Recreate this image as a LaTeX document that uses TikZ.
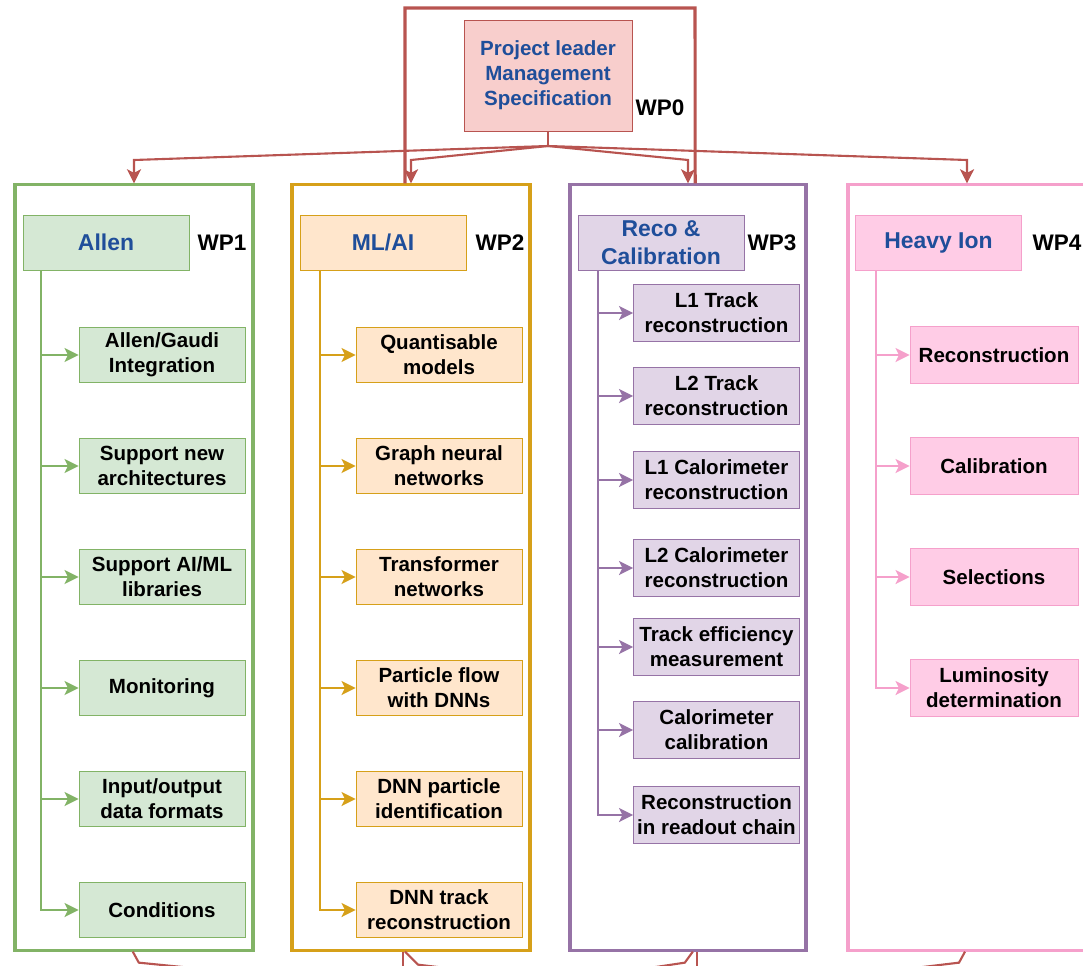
\documentclass[tikz,border=0pt]{standalone}
\usepackage{fontspec}
\setmainfont{Liberation Sans}
\usetikzlibrary{arrows.meta}
\definecolor{wpred}{HTML}{B85450}
\definecolor{wpredfill}{HTML}{F8CECC}
\definecolor{titleblue}{HTML}{1F4E9A}
\definecolor{wpgreen}{HTML}{82B366}
\definecolor{wpgreenfill}{HTML}{D5E8D4}
\definecolor{wpgold}{HTML}{D6A019}
\definecolor{wpgoldfill}{HTML}{FFE6CC}
\definecolor{wppurple}{HTML}{9673A6}
\definecolor{wppurplefill}{HTML}{E1D5E7}
\definecolor{wppink}{HTML}{F5A0CB}
\definecolor{wppinkfill}{HTML}{FFCCE6}
\begin{document}
\begin{tikzpicture}[x=0.025cm,y=-0.025cm,>={Stealth[length=10pt,width=10pt,inset=2.5pt]},
    panel/.style={draw,line width=2.2pt,minimum width=5.95cm,minimum height=19.125cm},
    headbox/.style={draw,line width=0.6pt,minimum width=4.15cm,minimum height=1.375cm,align=center,inner sep=1pt,
        text=titleblue,font=\fontsize{16.3}{19.8}\selectfont\bfseries},
    taskbox/.style={draw,line width=0.6pt,minimum width=4.15cm,minimum height=1.375cm,align=center,inner sep=1pt,
        font=\fontsize{14.6}{17.8}\selectfont\bfseries},
    wplabel/.style={font=\fontsize{16}{19}\selectfont\bfseries},
    redline/.style={draw=wpred,line width=1.5pt},
    trunk/.style={line width=1.7pt,->}]
    \clip (0,0) rectangle (1083,965);
    % top
    \node[draw=wpred,fill=wpredfill,line width=0.6pt,minimum width=4.2cm,minimum height=2.775cm,align=center,
        text=titleblue,font=\fontsize{14.6}{17.8}\selectfont\bfseries] (wp0) at (548,75.5) {Project leader\\Management\\Specification};
    \node[wplabel] (wp0lab) at (660,108) {WP0};
    % work package frames
    \node[panel,draw=wpgreen] (p1) at (134,567.5) {};
    \node[panel,draw=wpgold] (p2) at (411,567.5) {};
    \node[panel,draw=wppurple,minimum width=5.9cm] (p3) at (688,567.5) {};
    \node[panel,draw=wppink] (p4) at (967,567.5) {};
    \node[headbox,draw=wpgreen,fill=wpgreenfill] (h1) at (106,242.5) {Allen};
    \node[headbox,draw=wpgold,fill=wpgoldfill] (h2) at (383,242.5) {ML/AI};
    \node[headbox,draw=wppurple,fill=wppurplefill] (h3) at (661,242.5) {Reco \&\\Calibration};
    \node[headbox,draw=wppink,fill=wppinkfill] (h4) at (938.5,242.5) {Heavy Ion};
    \node[wplabel] (wp1lab) at (222,243) {WP1};
    \node[wplabel] (wp2lab) at (500,243) {WP2};
    \node[wplabel] (wp3lab) at (772,243) {WP3};
    \node[wplabel] (wp4lab) at (1057,243) {WP4};
    % WP1
    \node[taskbox,draw=wpgreen,fill=wpgreenfill] (a1) at (162,355) {Allen/Gaudi\\Integration};
    \node[taskbox,draw=wpgreen,fill=wpgreenfill] (a2) at (162,466) {Support new\\architectures};
    \node[taskbox,draw=wpgreen,fill=wpgreenfill] (a3) at (162,577) {Support AI/ML\\libraries};
    \node[taskbox,draw=wpgreen,fill=wpgreenfill] (a4) at (162,688) {Monitoring};
    \node[taskbox,draw=wpgreen,fill=wpgreenfill] (a5) at (162,799) {Input/output\\data formats};
    \node[taskbox,draw=wpgreen,fill=wpgreenfill] (a6) at (162,910) {Conditions};
    % WP2
    \node[taskbox,draw=wpgold,fill=wpgoldfill] (m1) at (439,355) {Quantisable\\models};
    \node[taskbox,draw=wpgold,fill=wpgoldfill] (m2) at (439,466) {Graph neural\\networks};
    \node[taskbox,draw=wpgold,fill=wpgoldfill] (m3) at (439,577) {Transformer\\networks};
    \node[taskbox,draw=wpgold,fill=wpgoldfill] (m4) at (439,688) {Particle flow\\with DNNs};
    \node[taskbox,draw=wpgold,fill=wpgoldfill] (m5) at (439,799) {DNN particle\\identification};
    \node[taskbox,draw=wpgold,fill=wpgoldfill] (m6) at (439,910) {DNN track\\reconstruction};
    % WP3
    \node[taskbox,draw=wppurple,fill=wppurplefill,minimum height=1.425cm] (r1) at (716.5,313) {L1 Track\\reconstruction};
    \node[taskbox,draw=wppurple,fill=wppurplefill,minimum height=1.425cm] (r2) at (716.5,396) {L2 Track\\reconstruction};
    \node[taskbox,draw=wppurple,fill=wppurplefill,minimum height=1.425cm] (r3) at (716.5,480) {L1 Calorimeter\\reconstruction};
    \node[taskbox,draw=wppurple,fill=wppurplefill,minimum height=1.425cm] (r4) at (716.5,568) {L2 Calorimeter\\reconstruction};
    \node[taskbox,draw=wppurple,fill=wppurplefill,minimum height=1.425cm] (r5) at (716.5,647) {Track efficiency\\measurement};
    \node[taskbox,draw=wppurple,fill=wppurplefill,minimum height=1.425cm] (r6) at (716.5,730) {Calorimeter\\calibration};
    \node[taskbox,draw=wppurple,fill=wppurplefill,minimum height=1.425cm] (r7) at (716.5,815) {Reconstruction\\in readout chain};
    % WP4
    \node[taskbox,draw=wppink,fill=wppinkfill,minimum width=4.2cm,minimum height=1.425cm] (i1) at (994,355) {Reconstruction};
    \node[taskbox,draw=wppink,fill=wppinkfill,minimum width=4.2cm,minimum height=1.425cm] (i2) at (994,466) {Calibration};
    \node[taskbox,draw=wppink,fill=wppinkfill,minimum width=4.2cm,minimum height=1.425cm] (i3) at (994,577) {Selections};
    \node[taskbox,draw=wppink,fill=wppinkfill,minimum width=4.2cm,minimum height=1.425cm] (i4) at (994,688) {Luminosity\\determination};
    % trunks
    \coordinate (t1) at (41,0);
    \coordinate (t2) at (320,0);
    \coordinate (t3) at (598,0);
    \coordinate (t4) at (876,0);
    \foreach \n in {a1,a2,a3,a4,a5,a6}
        \draw[trunk,wpgreen] (h1.south -| t1) |- (\n.west);
    \foreach \n in {m1,m2,m3,m4,m5,m6}
        \draw[trunk,wpgold] (h2.south -| t2) |- (\n.west);
    \foreach \n in {r1,r2,r3,r4,r5,r6,r7}
        \draw[trunk,wppurple] (h3.south -| t3) |- (\n.west);
    \foreach \n in {i1,i2,i3,i4}
        \draw[trunk,wppink] (h4.south -| t4) |- (\n.west);
    % from WP0
    \coordinate (hub) at (548,146);
    \draw[redline] (wp0.south) -- (hub);
    \foreach \p in {p1,p2,p3,p4}
        \draw[redline,->] (hub) -- (\p.north |- 0,160) -- (\p.north);
    \coordinate (loopl) at (405,8);
    \coordinate (loopr) at (695,8);
    \draw[redline,line width=2.2pt] ([xshift=-0.15cm]p2.north) -- (loopl) -- (loopr) -- ([xshift=0.18cm]p3.north);
    % going on below
    \draw[redline] ([xshift=-0.03cm]p1.south) -- ++(6,11) -- ++(60,6);
    \draw[redline] ([xshift=-0.2cm]p2.south) -- ++(0,20);
    \draw[redline] ([xshift=-0.15cm]p2.south) -- ++(13,13) -- ++(50,6);
    \draw[redline] ([xshift=0.12cm]p3.south) -- ++(-8,11) -- ++(-40,6);
    \draw[redline] ([xshift=0.22cm]p3.south) -- ++(0,20);
    \draw[redline] ([xshift=-0.05cm]p4.south) -- ++(-6,11) -- ++(-50,6);
\end{tikzpicture}
\end{document}
